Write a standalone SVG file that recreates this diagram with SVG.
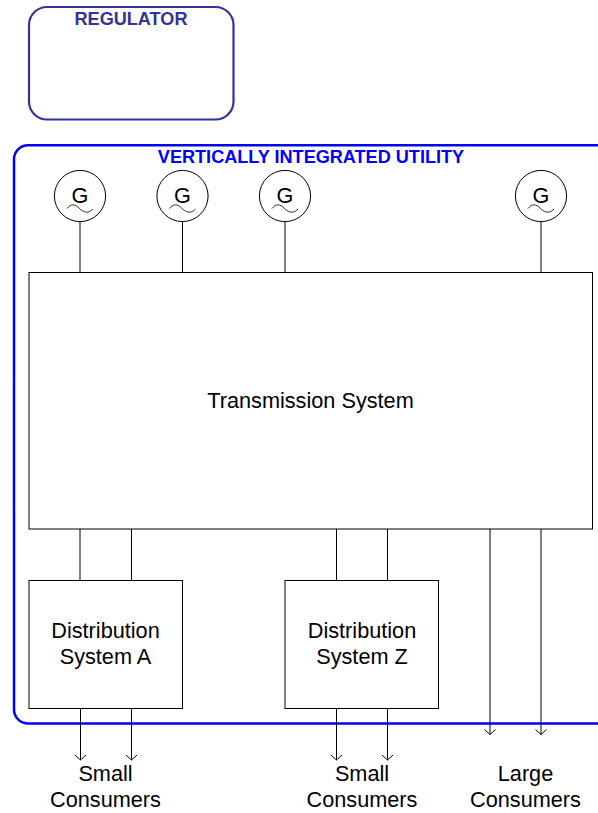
<svg xmlns="http://www.w3.org/2000/svg" width="598" height="813" viewBox="0 0 598 813">
<defs>
<marker id="arr" markerUnits="userSpaceOnUse" markerWidth="12" markerHeight="8" refX="5.5" refY="6" viewBox="0 0 11 7" overflow="visible"><path d="M0.5 1.500L5.500 6L10.500 1.500" fill="none" stroke="#000" stroke-width="0.9"/></marker>
<g id="gen"><circle r="25.6" fill="#fff" stroke="#000" stroke-width="1"/><text y="6.800" class="t" text-anchor="middle">G</text><path d="M-13 12.500C-9 7.500 -5 8 -1 12S8 18.500 13 13" fill="none" stroke="#000" stroke-width="0.8"/></g>
</defs>
<style>
.t{font-family:"Liberation Sans",Arial,sans-serif;font-size:21.7px;fill:#000}
.c{text-anchor:middle}
.b{font-family:"Liberation Sans",Arial,sans-serif;font-size:18.1px;font-weight:bold;text-anchor:middle}
.box{fill:none;stroke:#000;stroke-width:1}
.ln{fill:none;stroke:#000;stroke-width:1}
</style>
<rect width="598" height="813" fill="#fff"/>
<g id="regulator"><rect x="29" y="7" width="204.500" height="112.500" rx="18" fill="none" stroke="#333399" stroke-width="2.200"/><text x="131" y="24.500" class="b" fill="#333399">REGULATOR</text></g>
<g id="utility"><rect x="14" y="145.200" width="596" height="578.300" rx="14" fill="none" stroke="#0000ff" stroke-width="2.500"/><text x="311" y="162.500" class="b" fill="#0000ff">VERTICALLY INTEGRATED UTILITY</text></g>
<g id="connectors">
<path class="ln" d="M80 221.500V272.500M182.500 221.500V272.500M285 221.500V272.500M541 221.500V272.500"/>
<path class="ln" d="M54 272.500H80M157 272.500H182.500M464 272.500H541"/>
<path class="ln" d="M80 529V580.500M131.500 529V580.500M336.500 529V580.500M387.500 529V580.500"/>
<path class="ln" d="M80.500 708.500V760" marker-end="url(#arr)"/>
<path class="ln" d="M131.500 708.500V760" marker-end="url(#arr)"/>
<path class="ln" d="M336.500 708.500V760" marker-end="url(#arr)"/>
<path class="ln" d="M387.500 708.500V760" marker-end="url(#arr)"/>
<path class="ln" d="M490 529V734.500" marker-end="url(#arr)"/>
<path class="ln" d="M541 529V734.500" marker-end="url(#arr)"/>
</g>
<g id="g1"><use href="#gen" x="80" y="196"/></g>
<g id="g2"><use href="#gen" x="182.500" y="196"/></g>
<g id="g3"><use href="#gen" x="285" y="196"/></g>
<g id="g4"><use href="#gen" x="541" y="196"/></g>
<g id="transmission"><rect class="box" x="29" y="272.500" width="563.500" height="256.500"/><text x="310.500" y="408" class="t c">Transmission System</text></g>
<g id="distA"><rect class="box" x="29" y="580.500" width="153.500" height="128"/><text x="105.500" y="638" class="t c">Distribution</text><text x="105.500" y="664" class="t c">System A</text></g>
<g id="distZ"><rect class="box" x="285" y="580.500" width="153.500" height="128"/><text x="362" y="638" class="t c">Distribution</text><text x="362" y="664" class="t c">System Z</text></g>
<g id="small1"><text x="105.500" y="781" class="t c">Small</text><text x="105.500" y="807" class="t c">Consumers</text></g>
<g id="small2"><text x="362" y="781" class="t c">Small</text><text x="362" y="807" class="t c">Consumers</text></g>
<g id="large"><text x="525.500" y="781" class="t c">Large</text><text x="525.500" y="807" class="t c">Consumers</text></g>
</svg>
